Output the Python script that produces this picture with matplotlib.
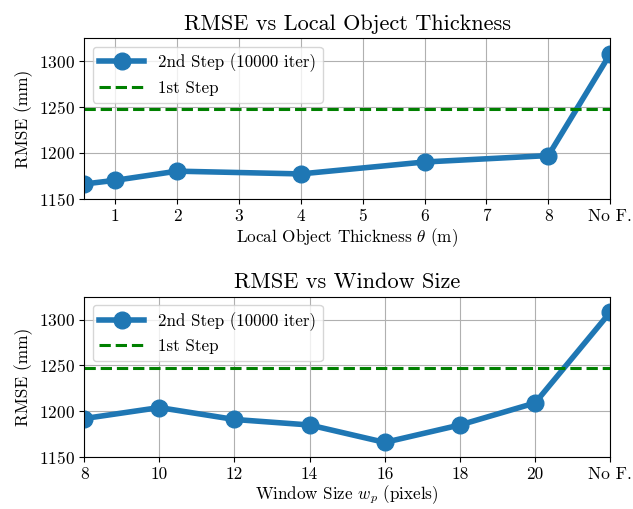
import matplotlib
matplotlib.use("Agg")
import matplotlib.pyplot as plt

plt.rcParams['font.family'] = 'serif'
plt.rcParams['font.serif'] = ['cmr10']
plt.rcParams['mathtext.fontset'] = 'cm'
plt.rcParams['axes.formatter.use_mathtext'] = True

# Top panel data
thick_x = [0.5, 1, 2, 4, 6, 8, 9]
thick_rmse = [1166, 1170, 1180, 1177, 1190, 1197, 1308]
thick_ticks = [1, 2, 3, 4, 5, 6, 7, 8, 9]
thick_ticklabels = ['1', '2', '3', '4', '5', '6', '7', '8', 'No F.']

# Bottom panel data
win_x = [8, 10, 12, 14, 16, 18, 20, 22]
win_rmse = [1192, 1204, 1191, 1185, 1166, 1185, 1209, 1308]
win_ticks = [8, 10, 12, 14, 16, 18, 20, 22]
win_ticklabels = ['8', '10', '12', '14', '16', '18', '20', 'No F.']

first_step = 1247.5

fig, axes = plt.subplots(2, 1, figsize=(6.33, 5.09), dpi=100)
fig.subplots_adjust(left=0.133, right=0.964, top=0.925, bottom=0.102, hspace=0.61)

panels = [
    (axes[0], thick_x, thick_rmse, thick_ticks, thick_ticklabels, (0.5, 9),
     'RMSE vs Local Object Thickness', r'Local Object Thickness $\theta$ (m)'),
    (axes[1], win_x, win_rmse, win_ticks, win_ticklabels, (8, 22),
     'RMSE vs Window Size', r'Window Size $w_p$ (pixels)'),
]

for ax, xs, ys, ticks, labels, xlim, title, xlabel in panels:
    ax.plot(xs, ys, '-o', color='#1f77b4', lw=4, ms=12, label='2nd Step (10000 iter)')
    ax.axhline(first_step, color='green', ls='--', lw=2.2, label='1st Step')
    ax.set_xticks(ticks)
    ax.set_xticklabels(labels)
    ax.set_xlim(*xlim)
    ax.set_ylim(1150, 1325)
    ax.set_yticks([1150, 1200, 1250, 1300])
    ax.grid(True)
    ax.set_title(title, fontsize=16)
    ax.set_xlabel(xlabel, fontsize=12.3, labelpad=1.5)
    ax.set_ylabel('RMSE (mm)', fontsize=12.5)
    ax.tick_params(labelsize=12.5)
    ax.legend(loc='upper left', fontsize=12.2, handlelength=2.65)

fig.savefig('out.png', dpi=100)
